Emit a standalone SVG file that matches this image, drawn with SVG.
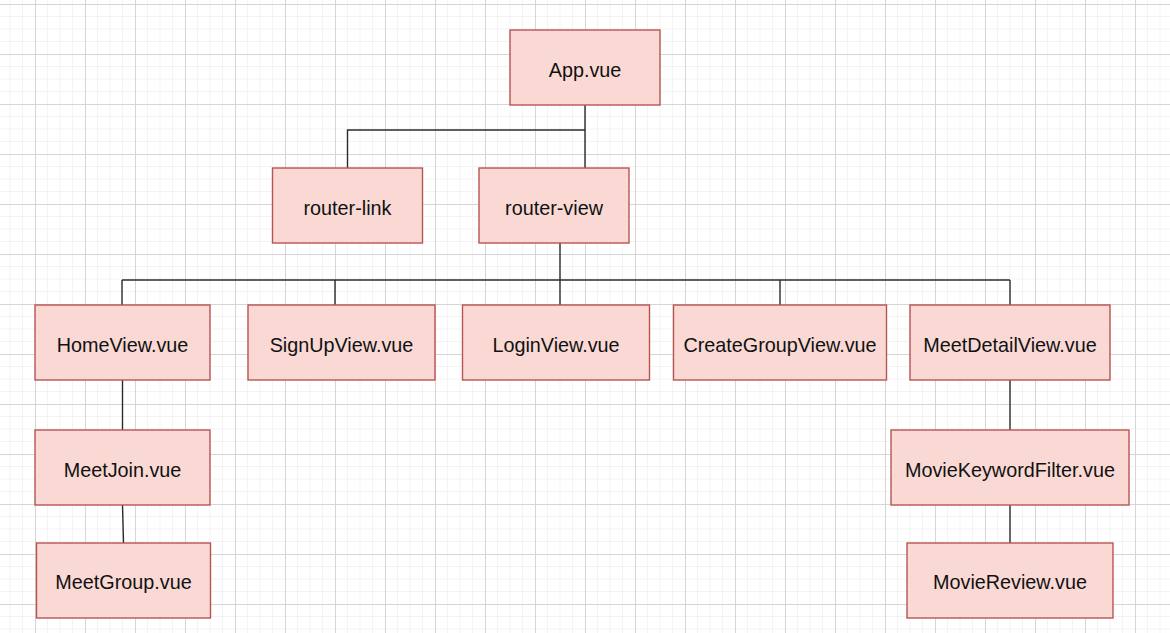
<svg xmlns="http://www.w3.org/2000/svg" width="1170" height="633" viewBox="0 0 1170 633">
<defs>
<style>
.node rect{fill:#fad9d5;stroke:#b85450;stroke-width:1.4}
.node text{font-family:"Liberation Sans",Arial,sans-serif;font-size:19.8px;fill:#111;text-anchor:middle}
#connectors path{fill:none;stroke:#2b2b2b;stroke-width:1.4}
</style>
<pattern id="grid" patternUnits="userSpaceOnUse" x="35" y="4" width="50" height="50">
<path d="M12.5 0V50M25 0V50M37.5 0V50M0 12.5H50M0 25H50M0 37.5H50" stroke="#f3f3f3" stroke-width="1" fill="none"/>
<path d="M0.5 0V50M0 0.5H50" stroke="#d6d6d6" stroke-width="1" fill="none"/>
</pattern>
</defs>
<rect width="1170" height="633" fill="#ffffff"/>
<rect width="1170" height="633" fill="url(#grid)"/>
<g id="connectors">
<path d="M585 105V168"/>
<path d="M585 130H347.5V168"/>
<path d="M560 243V305"/>
<path d="M122 280H1010"/>
<path d="M122 280V305"/>
<path d="M335 280V305"/>
<path d="M780 280V305"/>
<path d="M1010 280V305"/>
<path d="M122.5 380V430"/>
<path d="M122.5 505L123.5 543"/>
<path d="M1010 380V430"/>
<path d="M1010 505V543"/>
</g>
<g id="app" class="node"><rect x="510" y="30" width="150" height="75"/><text x="585" y="77">App.vue</text></g>
<g id="router-link" class="node"><rect x="272.5" y="168" width="150" height="75"/><text x="347.5" y="215">router-link</text></g>
<g id="router-view" class="node"><rect x="479" y="168" width="150" height="75"/><text x="554" y="215">router-view</text></g>
<g id="homeview" class="node"><rect x="35" y="305" width="175" height="75"/><text x="122.5" y="352">HomeView.vue</text></g>
<g id="signupview" class="node"><rect x="248" y="305" width="187" height="75"/><text x="341.5" y="352">SignUpView.vue</text></g>
<g id="loginview" class="node"><rect x="462.5" y="305" width="187" height="75"/><text x="556" y="352">LoginView.vue</text></g>
<g id="creategroupview" class="node"><rect x="673.5" y="305" width="213" height="75"/><text x="780" y="352">CreateGroupView.vue</text></g>
<g id="meetdetailview" class="node"><rect x="910" y="305" width="200" height="75"/><text x="1010" y="352">MeetDetailView.vue</text></g>
<g id="meetjoin" class="node"><rect x="35" y="430" width="175" height="75"/><text x="122.5" y="477">MeetJoin.vue</text></g>
<g id="meetgroup" class="node"><rect x="36.5" y="543" width="174" height="75"/><text x="123.5" y="589">MeetGroup.vue</text></g>
<g id="moviekeywordfilter" class="node"><rect x="891" y="430" width="238" height="75"/><text x="1010" y="477">MovieKeywordFilter.vue</text></g>
<g id="moviereview" class="node"><rect x="907" y="543" width="206" height="75"/><text x="1010" y="589">MovieReview.vue</text></g>
</svg>
